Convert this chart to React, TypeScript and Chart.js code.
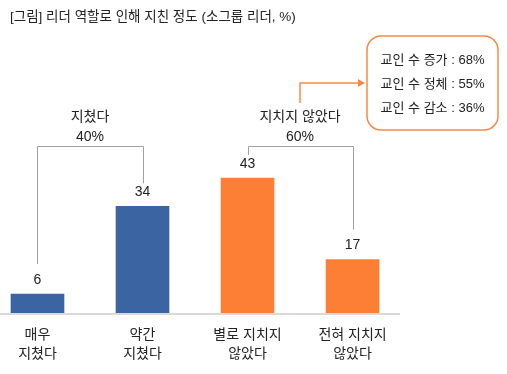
import React, { useEffect, useRef } from "react";
import { Chart, registerables } from "chart.js";
Chart.register(...registerables);

const titleText = "[그림] 리더 역할로 인해 지친 정도 (소그룹 리더, %)";
const categories = [["매우", "지쳤다"], ["약간", "지쳤다"], ["별로 지치지", "않았다"], ["전혀 지치지", "않았다"]];
const values = [6, 34, 43, 17];
const barColors = ["#3A64A2", "#3A64A2", "#FD7F36", "#FD7F36"];
const groupNames = ["지쳤다", "지치지 않았다"];
const groupTotals = [40, 60];
const groupRanges = [[0, 1], [2, 3]];
const calloutLabels = ["교인 수 증가", "교인 수 정체", "교인 수 감소"];
const calloutValues = [68, 55, 36];

const FONT = "'Liberation Sans', 'Noto Sans CJK KR', sans-serif";
const ORANGE = "#F98A46";
const TEXT = "#222222";

const annotate = {
  id: "annotate",
  afterDatasetsDraw(chart: any) {
    const { ctx, chartArea } = chart;
    const meta = chart.getDatasetMeta(0);
    const bars = meta.data;
    ctx.save();

    // baseline
    ctx.strokeStyle = "#D9D9D9";
    ctx.lineWidth = 2;
    ctx.beginPath();
    ctx.moveTo(chartArea.left, chartArea.bottom + 1);
    ctx.lineTo(chartArea.right, chartArea.bottom + 1);
    ctx.stroke();

    // value labels
    ctx.fillStyle = TEXT;
    ctx.font = `14px ${FONT}`;
    ctx.textAlign = "center";
    ctx.textBaseline = "middle";
    bars.forEach((b: any, i: number) => {
      ctx.fillText(String(values[i]), b.x, b.y - 14);
    });

    // brackets
    const bracketTop = chartArea.top - 10;
    ctx.strokeStyle = "#A0A0A0";
    ctx.lineWidth = 1;
    groupRanges.forEach((r, g) => {
      const a = bars[r[0]];
      const c = bars[r[1]];
      const ax = Math.round(a.x) + 0.5;
      const cx = Math.round(c.x) + 0.5;
      const aEnd = a.y - (g === 0 ? 30 : 23);
      const cEnd = c.y - (g === 0 ? 23 : 30);
      ctx.beginPath();
      ctx.moveTo(ax, aEnd);
      ctx.lineTo(ax, bracketTop + 0.5);
      ctx.lineTo(cx, bracketTop + 0.5);
      ctx.lineTo(cx, cEnd);
      ctx.stroke();
      const mid = (a.x + c.x) / 2;
      ctx.fillStyle = TEXT;
      ctx.font = `14px ${FONT}`;
      ctx.fillText(groupNames[g], mid, bracketTop - 29);
      ctx.fillText(groupTotals[g] + "%", mid, bracketTop - 9);
    });

    // callout box
    const bx = 367, by = 36, bw = 131, bh = 94, rad = 14;
    ctx.strokeStyle = ORANGE;
    ctx.lineWidth = 1.5;
    ctx.beginPath();
    ctx.roundRect(bx, by, bw, bh, rad);
    ctx.stroke();
    ctx.fillStyle = TEXT;
    ctx.font = `13px ${FONT}`;
    calloutLabels.forEach((l, i) => {
      ctx.fillText(`${l} : ${calloutValues[i]}%`, bx + bw / 2, by + 24 + i * 24);
    });

    // arrow from group 2 label to the box
    const g2 = (bars[2].x + bars[3].x) / 2;
    const ay = 83;
    ctx.strokeStyle = ORANGE;
    ctx.lineWidth = 1.5;
    ctx.beginPath();
    ctx.moveTo(g2, bracketTop - 43);
    ctx.lineTo(g2, ay);
    ctx.lineTo(bx - 8, ay);
    ctx.stroke();
    ctx.fillStyle = ORANGE;
    ctx.beginPath();
    ctx.moveTo(bx - 2, ay);
    ctx.lineTo(bx - 9, ay - 4);
    ctx.lineTo(bx - 9, ay + 4);
    ctx.closePath();
    ctx.fill();

    // title
    ctx.fillStyle = TEXT;
    ctx.font = `13.5px ${FONT}`;
    ctx.textAlign = "left";
    ctx.fillText(titleText, 10, 17);

    ctx.restore();
  },
};

export default function App() {
  const ref = useRef<HTMLCanvasElement>(null);
  useEffect(() => {
    if (!ref.current) return;
    const chart = new Chart(ref.current, {
      type: "bar",
      data: {
        datasets: [
          {
            data: values.map((v, i) => ({ x: i, y: v })),
            backgroundColor: barColors,
            barThickness: 53,
            borderWidth: 0,
          },
        ],
      },
      options: {
        animation: false,
        responsive: true,
        maintainAspectRatio: false,
        layout: { padding: { left: 0, right: 107, top: 156, bottom: -3 } },
        plugins: { legend: { display: false }, tooltip: { enabled: false } },
        scales: {
          x: {
            type: "linear",
            offset: false,
            min: -0.357,
            max: 3.452,
            grid: { display: false, drawTicks: false, offset: false },
            border: { display: false },
            afterBuildTicks: (scale: any) => {
              scale.ticks = categories.map((_, i) => ({ value: i }));
            },
            ticks: {
              autoSkip: false,
              maxRotation: 0,
              padding: 13,
              color: TEXT,
              font: { family: FONT, size: 14, lineHeight: 1.36 },
              callback: (v: any) => categories[v] ?? "",
            },
          },
          y: { display: false, min: 0, max: 50 },
        },
      },
      plugins: [annotate],
    });
    return () => chart.destroy();
  }, []);
  return (
    <div style={{ position: "absolute", left: 0, top: 0, width: 507, height: 374 }}>
      <canvas ref={ref} />
    </div>
  );
}
